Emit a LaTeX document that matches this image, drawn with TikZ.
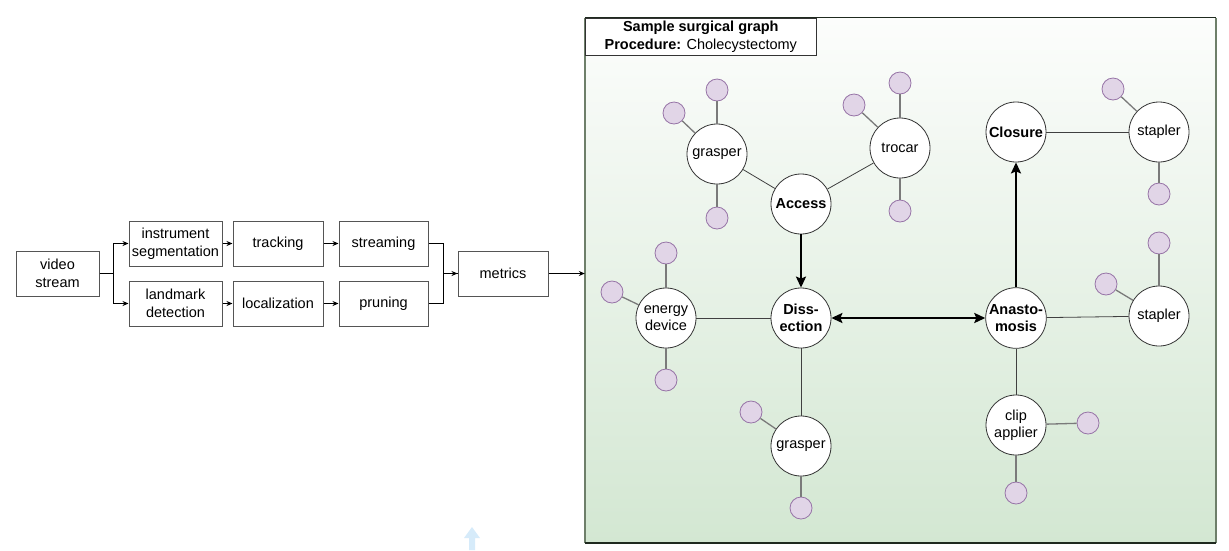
\documentclass[tikz,border=0pt]{standalone}
\usepackage{fontspec}
\setmainfont{Liberation Sans}
\usetikzlibrary{arrows.meta}
\definecolor{leaffill}{HTML}{E1D5E7}
\definecolor{leafdraw}{HTML}{9673A6}
\definecolor{framedraw}{HTML}{6E7F6A}
\definecolor{framedark}{HTML}{1F2A1F}
\definecolor{greenbot}{HTML}{D3E7D2}
\definecolor{greentop}{HTML}{FCFDFC}
\definecolor{boxdraw}{HTML}{555555}
\definecolor{leafline}{HTML}{7A7A7A}
\definecolor{arrowblue}{HTML}{D6EBFA}
\tikzset{
  txt/.style={font=\fontsize{14.5}{17.5}\selectfont, align=center},
  box/.style={txt, draw=boxdraw, line width=1pt, fill=white, minimum width=90pt, minimum height=45pt, inner sep=1pt},
  flow/.style={line width=0.8pt, -{Stealth[length=6pt,width=5pt]}},
  flowplain/.style={line width=0.8pt},
  hub/.style={txt, circle, draw=black!80, line width=0.8pt, fill=white, minimum size=60pt, inner sep=0pt},
  leaf/.style={circle, draw=leafdraw, fill=leaffill, line width=0.8pt, minimum size=22pt, inner sep=0pt},
  leafedge/.style={draw=leafline, line width=1.3pt},
  hubedge/.style={draw=black!75, line width=0.8pt},
  main/.style={line width=2.2pt, -{Stealth[length=11pt,width=10pt,inset=2pt]}},
  mainboth/.style={line width=2.2pt, {Stealth[length=11pt,width=10pt,inset=2pt]}-{Stealth[length=11pt,width=10pt,inset=2pt]}},
}
\begin{document}
\begin{tikzpicture}[x=1pt,y=-1pt]
\useasboundingbox (0,0) rectangle (1229,550);
% frame
\node[top color=greentop, bottom color=greenbot, minimum width=631pt, minimum height=525pt, inner sep=0pt] (frame) at (900.5,280.5) {};
\draw[framedraw, line width=2pt] (frame.north west) -- (frame.south west);
\draw[framedraw, line width=2pt] (frame.north east) -- (frame.south east);
\draw[framedark, line width=1.2pt] (frame.north west) -- (frame.north east);
\draw[framedark, line width=1.5pt] (frame.south west) -- (frame.south east);
\node[txt, draw=black!80, line width=1pt, fill=white, minimum width=231pt, minimum height=37pt, inner sep=0pt, anchor=north west] (title) at (frame.north west) {\textbf{Sample surgical graph}\\\textbf{Procedure:} Cholecystectomy};

% pipeline
\node[box, minimum width=83pt] (video) at (57.5,273.5) {video\\stream};
\node[box, minimum width=93pt] (seg) at (175.5,243.5) {instrument\\segmentation};
\node[box, minimum width=93pt] (land) at (175.5,303.5) {landmark\\detection};
\node[box] (track) at (278,243.5) {tracking};
\node[box] (loc) at (278,303.5) {localization};
\node[box, minimum width=89pt] (stream) at (383.5,243.5) {streaming};
\node[box, minimum width=89pt] (prune) at (383.5,303.5) {pruning};
\node[box] (metrics) at (503,273.5) {metrics};

\draw[flow] (video.east) -- ++(14,0) |- (seg.west);
\draw[flow] (video.east) -- ++(14,0) |- (land.west);
\draw[flow] (seg) -- (track);
\draw[flow] (track) -- (stream);
\draw[flow] (land) -- (loc);
\draw[flow] (loc) -- (prune);
\draw[flowplain] (stream.east) -- ++(15,0) |- (metrics.west);
\draw[flow] (prune.east) -- ++(15,0) |- (metrics.west);
\draw[flow] (metrics) -- (frame.west |- metrics.east);

% hubs
\node[hub] (grasperA) at (717,154) {grasper};
\node[hub] (access) at (801,204) {\textbf{Access}};
\node[hub] (trocar) at (900,148) {trocar};
\node[hub] (closure) at (1016,132) {\textbf{Closure}};
\node[hub] (staplerA) at (1159,132) {stapler};
\node[hub] (energy) at (666,318) {energy\\device};
\node[hub] (dissection) at (801,318) {\textbf{Diss-}\\\textbf{ection}};
\node[hub] (anasto) at (1016,318) {\textbf{Anasto-}\\\textbf{mosis}};
\node[hub] (staplerB) at (1159,316) {stapler};
\node[hub] (grasperB) at (801,446) {grasper};
\node[hub] (clip) at (1016,425) {clip\\applier};

% leaves
\node[leaf] (l1) at (717,90) {};
\node[leaf] (l2) at (674,113) {};
\node[leaf] (l3) at (717,218) {};
\node[leaf] (l4) at (900,83) {};
\node[leaf] (l5) at (854,105) {};
\node[leaf] (l6) at (900,211) {};
\node[leaf] (l7) at (1113,89) {};
\node[leaf] (l8) at (1159,194) {};
\node[leaf] (l9) at (666,253) {};
\node[leaf] (l10) at (612,292) {};
\node[leaf] (l11) at (666,380) {};
\node[leaf] (l12) at (1159,243) {};
\node[leaf] (l13) at (1106,284) {};
\node[leaf] (l14) at (751,412) {};
\node[leaf] (l15) at (801,508) {};
\node[leaf] (l16) at (1088,423) {};
\node[leaf] (l17) at (1016,493) {};

\foreach \a/\b in {l1/grasperA,l2/grasperA,l3/grasperA,l4/trocar,l5/trocar,l6/trocar,l7/staplerA,l8/staplerA,l9/energy,l10/energy,l11/energy,l12/staplerB,l13/staplerB,l14/grasperB,l15/grasperB,l16/clip,l17/clip}
  \draw[leafedge] (\a) -- (\b);

\draw[hubedge] (access) -- (grasperA);
\draw[hubedge] (access) -- (trocar);
\draw[hubedge] (closure) -- (staplerA);
\draw[hubedge] (dissection) -- (energy);
\draw[hubedge] (dissection) -- (grasperB);
\draw[hubedge] (anasto) -- (staplerB);
\draw[hubedge] (anasto) -- (clip);

\draw[main] (access) -- (dissection);
\draw[mainboth] (dissection) -- (anasto);
\draw[main] (anasto) -- (closure);

% stray light-blue arrow
\fill[arrowblue] (469,550) -- (469,538) -- (464,538) -- (472,527) -- (480,538) -- (475,538) -- (475,550) -- cycle;
\end{tikzpicture}
\end{document}
